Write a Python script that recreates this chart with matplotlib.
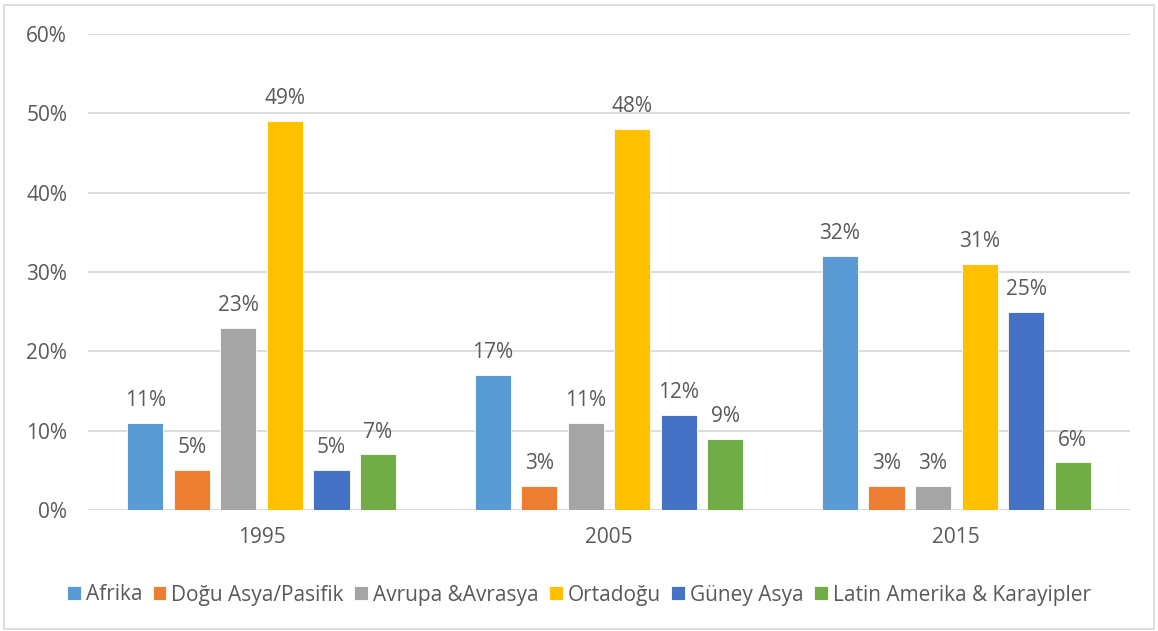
import matplotlib.pyplot as plt
import numpy as np
from matplotlib.patches import Rectangle

plt.rcParams['font.family'] = ['Open Sans', 'DejaVu Sans']

years = ['1995', '2005', '2015']
regions = ['Afrika', 'Doğu Asya/Pasifik', 'Avrupa &Avrasya', 'Ortadoğu',
           'Güney Asya', 'Latin Amerika & Karayipler']
colors = ['#5B9BD5', '#ED7D31', '#A5A5A5', '#FFC000', '#4472C4', '#70AD47']

# share (%) per region, one list per year
shares = {
    'Afrika': [11, 17, 32],
    'Doğu Asya/Pasifik': [5, 3, 3],
    'Avrupa &Avrasya': [23, 11, 3],
    'Ortadoğu': [49, 48, 31],
    'Güney Asya': [5, 12, 25],
    'Latin Amerika & Karayipler': [7, 9, 6],
}

text_col = '#595959'
fs = 15
fig = plt.figure(figsize=(11.58, 6.31), dpi=100)
ax = fig.add_axes([88 / 1158, 1 - 510 / 631, (1130 - 88) / 1158, 476 / 631])

x = np.arange(len(years))
pitch = 0.134
width = 0.104
for i, reg in enumerate(regions):
    pos = x + (i - 2.5) * pitch
    vals = shares[reg]
    bars = ax.bar(pos, vals, width, color=colors[i], label=reg, zorder=3,
                  edgecolor='white', linewidth=0.6)
    for b, v in zip(bars, vals):
        ax.text(b.get_x() + b.get_width() / 2, v + 1.5, f'{v}%', ha='center',
                va='bottom', fontsize=fs, color=text_col)

ax.set_xlim(-0.5, 2.5)
ax.set_ylim(0, 60)
ax.set_yticks(range(0, 61, 10))
ax.set_yticklabels([f'{t}%' for t in range(0, 61, 10)])
ax.set_xticks(x)
ax.set_xticklabels(years)
ax.tick_params(length=0, labelsize=fs, labelcolor=text_col)
ax.tick_params(axis='y', pad=15)
ax.tick_params(axis='x', pad=12)
ax.grid(axis='y', color='#D9D9D9', linewidth=1.3, zorder=0)
for s in ax.spines.values():
    s.set_visible(False)

handles, labels = ax.get_legend_handles_labels()
fig.legend(handles, labels, loc='center', bbox_to_anchor=(0.5, 1 - 595 / 631),
           ncol=6, frameon=False, fontsize=fs, labelcolor=text_col,
           handlelength=0.65, handleheight=0.65, handletextpad=0.25,
           columnspacing=0.5)

# outer chart border
fig.patches.append(Rectangle((4 / 1158, 2 / 631), 1150 / 1158, 624 / 631,
                             transform=fig.transFigure, fill=False,
                             edgecolor='#D9D9D9', linewidth=1.2))

fig.savefig('out.png', dpi=100)
